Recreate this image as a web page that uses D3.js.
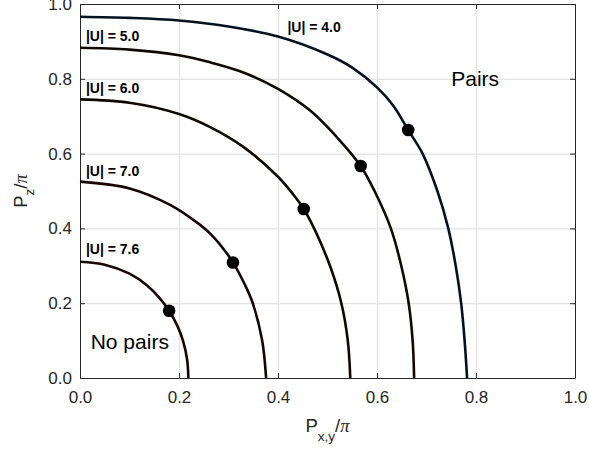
<!DOCTYPE html>
<html>
<head>
<meta charset="utf-8">
<script src="https://cdn.jsdelivr.net/npm/d3@7/dist/d3.min.js"></script>
<style>
  html, body { margin: 0; padding: 0; background: #fff; }
  svg { display: block; font-family: "Liberation Sans", Arial, Helvetica, sans-serif; }
</style>
</head>
<body>
<svg id="chart" width="589" height="451"></svg>
<script>
// Pairing threshold contours: P_z/π versus P_{x,y}/π for several |U|
const levels = ["4.0", "5.0", "6.0", "7.0", "7.6"];

const pxy40 = [0, 0.1, 0.2, 0.3, 0.4, 0.5, 0.55, 0.6, 0.633, 0.663, 0.692, 0.722, 0.744, 0.759, 0.770, 0.777, 0.782];
const pz40  = [0.966, 0.963, 0.956, 0.940, 0.913, 0.865, 0.830, 0.777, 0.728, 0.663, 0.6, 0.5, 0.4, 0.3, 0.2, 0.1, 0];

const pxy50 = [0, 0.1, 0.2, 0.263, 0.33, 0.4, 0.465, 0.525, 0.567, 0.595, 0.628, 0.649, 0.664, 0.672, 0.675];
const pz50  = [0.883, 0.878, 0.863, 0.844, 0.817, 0.773, 0.715, 0.635, 0.567, 0.5, 0.4, 0.3, 0.2, 0.1, 0];

const pxy60 = [0, 0.1, 0.2, 0.263, 0.33, 0.4, 0.43, 0.452, 0.473, 0.505, 0.528, 0.541, 0.546];
const pz60  = [0.745, 0.736, 0.706, 0.671, 0.618, 0.538, 0.492, 0.452, 0.4, 0.3, 0.2, 0.1, 0];

const pxy70 = [0, 0.1, 0.182, 0.24, 0.263, 0.29, 0.309, 0.333, 0.349, 0.368, 0.376];
const pz70  = [0.525, 0.507, 0.463, 0.412, 0.386, 0.345, 0.309, 0.25, 0.2, 0.1, 0];

const pxy76 = [0, 0.05, 0.1, 0.135, 0.16, 0.18, 0.1965, 0.208, 0.2163, 0.219];
const pz76  = [0.311, 0.303, 0.279, 0.248, 0.215, 0.18, 0.14, 0.1, 0.05, 0];

// isotropic point (P_x = P_y = P_z) on each contour
const diagonal = [0.663, 0.567, 0.452, 0.309, 0.18];

const xTicks = [0, 0.2, 0.4, 0.6, 0.8, 1.0];
const yTicks = [0, 0.2, 0.4, 0.6, 0.8, 1.0];

const curves = [
  { level: levels[0], x: pxy40, y: pz40, color: "#04121f" },
  { level: levels[1], x: pxy50, y: pz50, color: "#0e0a00" },
  { level: levels[2], x: pxy60, y: pz60, color: "#0d0800" },
  { level: levels[3], x: pxy70, y: pz70, color: "#160404" },
  { level: levels[4], x: pxy76, y: pz76, color: "#180600" }
];

const svg = d3.select("#chart");
const plotLeft = 80, plotRight = 575, plotTop = 4, plotBottom = 378;

const x = d3.scaleLinear().domain([0, 1]).range([plotLeft, plotRight]);
const y = d3.scaleLinear().domain([0, 1]).range([plotBottom, plotTop]);

const axisColor = "#262626";
const gridColor = "#e2e2e2";

// grid
const grid = svg.append("g");
grid.selectAll(".gx").data(xTicks.slice(1, -1)).enter().append("line")
  .attr("x1", d => x(d) + 0.5).attr("x2", d => x(d) + 0.5)
  .attr("y1", plotTop).attr("y2", plotBottom)
  .attr("stroke", gridColor).attr("stroke-width", 1.3);
grid.selectAll(".gy").data(yTicks.slice(1, -1)).enter().append("line")
  .attr("y1", d => y(d) + 0.5).attr("y2", d => y(d) + 0.5)
  .attr("x1", plotLeft).attr("x2", plotRight)
  .attr("stroke", gridColor).attr("stroke-width", 1.3);

// axes with inward ticks on all four sides
const fmt = d3.format(".1f");
function styleAxis(g) {
  g.selectAll("path.domain").attr("stroke", axisColor).attr("stroke-width", 1);
  g.selectAll(".tick line").attr("stroke", axisColor).attr("stroke-width", 1);
  g.selectAll(".tick text").attr("fill", axisColor)
    .style("font-size", "17px").style("font-family", "Liberation Sans, Arial, sans-serif");
}
svg.append("g").attr("transform", `translate(0,${plotBottom})`)
  .call(d3.axisBottom(x).tickValues(xTicks).tickFormat(fmt).tickSizeInner(-5).tickSizeOuter(0).tickPadding(13))
  .call(styleAxis);
svg.append("g").attr("transform", `translate(${plotLeft},0)`)
  .call(d3.axisLeft(y).tickValues(yTicks).tickFormat(fmt).tickSizeInner(-5).tickSizeOuter(0).tickPadding(8))
  .call(styleAxis);
svg.append("g").attr("transform", `translate(0,${plotTop})`)
  .call(d3.axisTop(x).tickValues(xTicks).tickFormat("").tickSizeInner(-5).tickSizeOuter(0))
  .call(styleAxis);
svg.append("g").attr("transform", `translate(${plotRight},0)`)
  .call(d3.axisRight(y).tickValues(yTicks).tickFormat("").tickSizeInner(-5).tickSizeOuter(0))
  .call(styleAxis);

// contour lines
const line = d3.line()
  .x(d => x(d[0])).y(d => y(d[1]))
  .curve(d3.curveCatmullRom.alpha(0.5));

svg.append("g").selectAll("path").data(curves).enter().append("path")
  .attr("d", c => line(c.x.map((v, i) => [v, c.y[i]])))
  .attr("fill", "none")
  .attr("stroke", c => c.color)
  .attr("stroke-width", 2.6);

// isotropic points
svg.append("g").selectAll("circle").data(diagonal).enter().append("circle")
  .attr("cx", d => x(d)).attr("cy", d => y(d))
  .attr("r", 6.3).attr("fill", "#000");

// contour labels
const labelPos = [[0.419, 0.924], [0.012, 0.901], [0.012, 0.761], [0.012, 0.54], [0.012, 0.332]];
svg.append("g").selectAll("text").data(curves).enter().append("text")
  .attr("x", (c, i) => x(labelPos[i][0]))
  .attr("y", (c, i) => y(labelPos[i][1]))
  .attr("fill", "#000")
  .style("font-size", "14px").style("font-weight", "bold")
  .text(c => `|U| = ${c.level}`);

// region labels
svg.append("text").attr("x", x(0.75)).attr("y", y(0.781))
  .style("font-size", "21px").attr("fill", "#000").text("Pairs");
svg.append("text").attr("x", x(0.0216)).attr("y", y(0.077))
  .style("font-size", "21px").attr("fill", "#000").text("No pairs");

// axis titles
const xt = svg.append("text")
  .attr("x", (plotLeft + plotRight) / 2).attr("y", 432)
  .attr("text-anchor", "middle").attr("fill", axisColor)
  .style("font-size", "18.5px");
xt.append("tspan").text("P");
xt.append("tspan").attr("dy", 9).style("font-size", "13.5px").text("x,y");
xt.append("tspan").attr("dy", -9).text("/");
xt.append("tspan").style("font-family", "Liberation Serif, serif").style("font-style", "italic").text("π");

const yt = svg.append("text")
  .attr("transform", `translate(27,${(plotTop + plotBottom) / 2}) rotate(-90)`)
  .attr("text-anchor", "middle").attr("fill", axisColor)
  .style("font-size", "18.5px");
yt.append("tspan").text("P");
yt.append("tspan").attr("dy", 7).style("font-size", "13.5px").text("z");
yt.append("tspan").attr("dy", -7).text("/");
yt.append("tspan").style("font-family", "Liberation Serif, serif").style("font-style", "italic").text("π");
</script>
</body>
</html>
